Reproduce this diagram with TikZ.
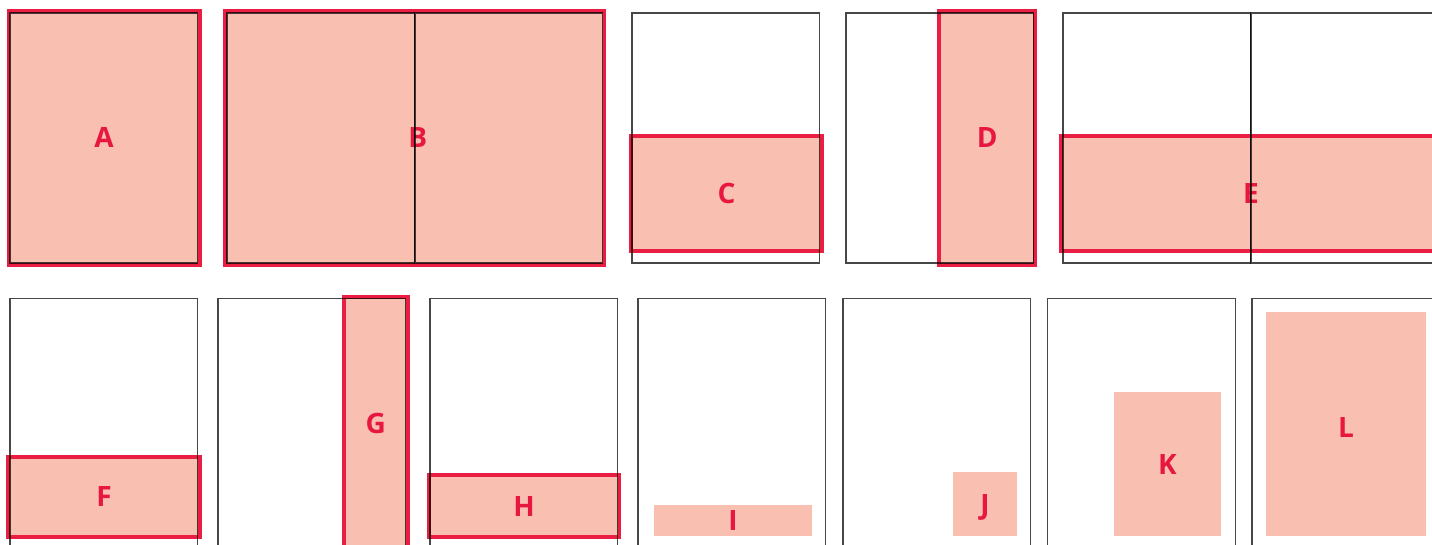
\documentclass[tikz,border=0pt]{standalone}
\usepackage{fontspec}
\setmainfont{Open Sans}
\usepackage{tikz}
\usetikzlibrary{positioning}

\definecolor{zonefill}{HTML}{F9BFB1}
\definecolor{zonered}{HTML}{E91E42}
\definecolor{labred}{HTML}{E8173F}

\tikzset{
  page/.style={draw=black, draw opacity=0.72, line width=1.2pt},
  zone/.style={draw=zonered, fill=zonefill, line width=3.8pt, rectangle, inner sep=0pt},
  plainzone/.style={fill=zonefill, rectangle, inner sep=0pt},
  lab/.style={text=labred, font=\fontsize{28}{30}\selectfont\bfseries,
    text height=20pt, text depth=0pt}
}

\begin{document}
\begin{tikzpicture}[x=1pt, y=-1pt]
    \clip (0,0) rectangle (1432,545);
    \fill[white] (0,0) rectangle (1432,545);

    % Top row: framed zones
    \node[zone, lab, minimum width=191.3pt, minimum height=254pt] (a) at (104.15,138) {A};
    \node[zone, lab, minimum width=379.5pt, minimum height=254pt] (b) at (414.75,138) {\hspace*{6pt}B};
    \node[zone, lab, minimum width=191.6pt, minimum height=114.4pt] (c) at (726.5,193.5) {C};
    \node[zone, lab, minimum width=96pt, minimum height=254pt] (d) at (987.3,138) {D};
    \node[zone, lab, minimum width=380pt, minimum height=114.4pt] (e) at (1251,193.5) {E};

    % Bottom row: framed zones
    \node[zone, lab, minimum width=191.4pt, minimum height=79.7pt] (f) at (104,496.85) {F};
    \node[zone, lab, minimum width=64pt, minimum height=253pt] (g) at (375.7,423.5) {G};
    \node[zone, lab, minimum width=190.8pt, minimum height=61.4pt] (h) at (524.1,506) {H};

    % Bottom row: plain zones
    \node[plainzone, lab, minimum width=158pt, minimum height=31pt] (i) at (733,520.5) {I};
    \node[plainzone, lab, minimum width=64pt, minimum height=64pt] (j) at (985,504) {J};
    \node[plainzone, lab, minimum width=107pt, minimum height=144pt] (k) at (1167.5,464) {K};
    \node[plainzone, lab, text height=26pt, minimum width=160pt, minimum height=224pt] (l) at (1346,424) {L};

    % Page frames
    \foreach \x in {10,227,415,632,846,1063,1251}
        \draw[page] (\x,13) rectangle ++(187.7,250);
    \foreach \x in {10,218,430,638,843,1047.5,1252}
        \draw[page] (\x,298.5) rectangle ++(187.7,250);
\end{tikzpicture}
\end{document}
